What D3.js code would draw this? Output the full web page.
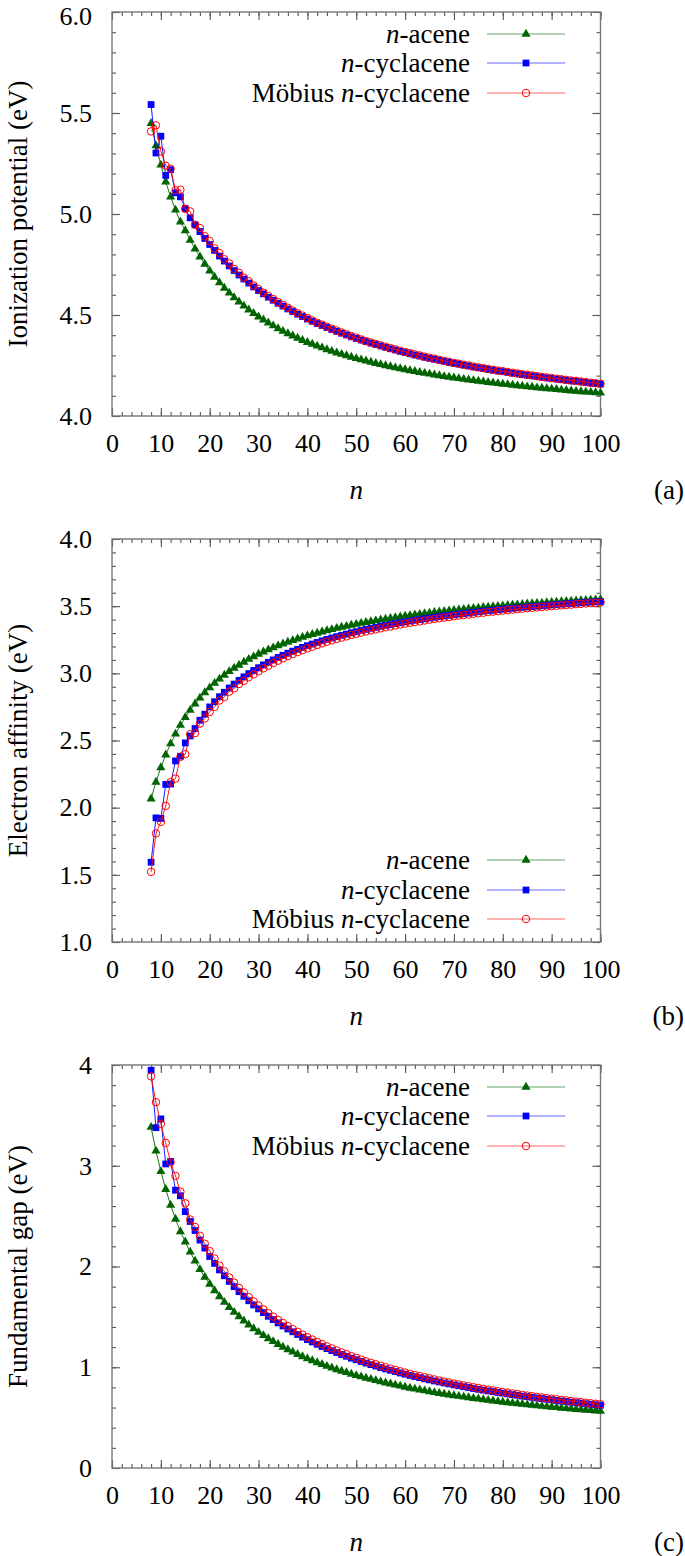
<!DOCTYPE html>
<html><head><meta charset="utf-8">
<script src="https://cdn.jsdelivr.net/npm/d3@7"></script>
<style>body{margin:0;background:#fff} svg text{font-family:"Liberation Serif","DejaVu Serif",serif;}</style>
</head><body>
<script>
// ---------- data ----------
const nValues = d3.range(8, 101); // n = 8 ... 100

// (a) Ionization potential (eV)
const ipAcene = [5.449,5.338,5.243,5.159,5.085,5.020,4.961,4.918,4.871,4.828,4.788,4.752,4.719,4.688,4.660,4.633,4.609,4.586,4.565,4.545,4.526,4.508,4.491,4.476,4.461,4.447,4.433,4.420,4.408,4.397,4.386,4.375,4.365,4.356,4.347,4.338,4.329,4.321,4.313,4.306,4.299,4.292,4.285,4.279,4.273,4.267,4.261,4.255,4.250,4.245,4.239,4.235,4.230,4.225,4.221,4.216,4.212,4.208,4.204,4.200,4.196,4.193,4.189,4.186,4.182,4.179,4.176,4.173,4.170,4.167,4.164,4.161,4.158,4.156,4.153,4.150,4.148,4.145,4.143,4.140,4.138,4.136,4.134,4.132,4.129,4.127,4.125,4.123,4.121,4.119,4.118,4.116,4.114];
const ipCyc = [5.542,5.302,5.385,5.191,5.219,5.105,5.085,5.027,4.981,4.946,4.913,4.879,4.849,4.820,4.792,4.767,4.743,4.720,4.698,4.678,4.658,4.639,4.621,4.605,4.588,4.573,4.558,4.544,4.530,4.517,4.504,4.492,4.480,4.469,4.458,4.448,4.438,4.428,4.419,4.410,4.401,4.392,4.384,4.376,4.368,4.361,4.354,4.347,4.340,4.333,4.327,4.320,4.314,4.308,4.302,4.297,4.291,4.286,4.281,4.276,4.271,4.266,4.261,4.257,4.252,4.248,4.243,4.239,4.235,4.231,4.227,4.223,4.220,4.216,4.212,4.209,4.205,4.202,4.199,4.195,4.192,4.189,4.186,4.183,4.180,4.177,4.174,4.172,4.169,4.166,4.163,4.161,4.158];
const ipMob = [5.409,5.439,5.310,5.239,5.224,5.117,5.120,5.025,5.013,4.947,4.931,4.890,4.866,4.830,4.807,4.776,4.755,4.728,4.709,4.685,4.667,4.646,4.628,4.611,4.594,4.579,4.564,4.550,4.536,4.522,4.509,4.497,4.485,4.473,4.462,4.452,4.442,4.432,4.423,4.414,4.405,4.396,4.388,4.379,4.371,4.364,4.357,4.350,4.343,4.336,4.330,4.323,4.317,4.311,4.305,4.300,4.294,4.289,4.284,4.278,4.273,4.268,4.263,4.259,4.254,4.250,4.245,4.241,4.237,4.233,4.229,4.225,4.222,4.218,4.214,4.211,4.207,4.204,4.201,4.197,4.194,4.191,4.188,4.185,4.182,4.179,4.176,4.174,4.171,4.168,4.165,4.163,4.160];

// (b) Electron affinity (eV)
const eaAcene = [2.066,2.191,2.299,2.393,2.476,2.549,2.614,2.673,2.726,2.773,2.817,2.857,2.893,2.927,2.958,2.987,3.014,3.039,3.062,3.084,3.105,3.124,3.143,3.160,3.176,3.191,3.206,3.220,3.233,3.245,3.257,3.269,3.280,3.290,3.300,3.309,3.318,3.327,3.336,3.344,3.351,3.359,3.366,3.373,3.380,3.386,3.392,3.398,3.404,3.410,3.415,3.421,3.426,3.431,3.436,3.440,3.445,3.449,3.454,3.458,3.462,3.466,3.470,3.473,3.477,3.480,3.484,3.487,3.491,3.494,3.497,3.500,3.503,3.506,3.509,3.511,3.514,3.517,3.519,3.522,3.524,3.527,3.529,3.531,3.534,3.536,3.538,3.540,3.542,3.544,3.546,3.548,3.550];
const eaCyc = [1.594,1.924,1.920,2.173,2.176,2.348,2.383,2.482,2.534,2.589,2.651,2.696,2.750,2.789,2.826,2.859,2.891,2.920,2.948,2.974,2.998,3.021,3.042,3.063,3.082,3.100,3.118,3.134,3.150,3.165,3.179,3.193,3.206,3.218,3.230,3.242,3.253,3.263,3.273,3.283,3.292,3.302,3.310,3.319,3.327,3.335,3.342,3.350,3.357,3.363,3.370,3.377,3.383,3.389,3.395,3.400,3.406,3.411,3.417,3.422,3.427,3.431,3.436,3.441,3.445,3.449,3.454,3.458,3.462,3.466,3.469,3.473,3.477,3.480,3.484,3.487,3.491,3.494,3.497,3.500,3.503,3.506,3.509,3.512,3.515,3.517,3.520,3.523,3.525,3.528,3.530,3.533,3.535];
const eaMob = [1.522,1.808,1.894,2.013,2.190,2.217,2.378,2.398,2.547,2.555,2.626,2.664,2.713,2.751,2.798,2.824,2.864,2.888,2.921,2.944,2.971,2.993,3.015,3.037,3.057,3.076,3.094,3.111,3.128,3.143,3.158,3.172,3.186,3.198,3.211,3.223,3.235,3.245,3.256,3.266,3.275,3.286,3.294,3.303,3.312,3.320,3.327,3.335,3.343,3.349,3.356,3.363,3.370,3.376,3.382,3.387,3.393,3.399,3.405,3.410,3.415,3.419,3.425,3.430,3.434,3.438,3.443,3.447,3.451,3.456,3.459,3.463,3.467,3.470,3.474,3.477,3.481,3.485,3.488,3.491,3.494,3.497,3.500,3.503,3.506,3.508,3.511,3.515,3.517,3.520,3.522,3.525,3.527];

// (c) Fundamental gap (eV)
const gapAcene = [3.383,3.147,2.944,2.766,2.609,2.471,2.347,2.245,2.145,2.055,1.971,1.895,1.826,1.761,1.702,1.646,1.595,1.547,1.503,1.461,1.421,1.384,1.348,1.316,1.285,1.256,1.227,1.200,1.175,1.152,1.129,1.106,1.085,1.066,1.047,1.029,1.011,0.994,0.977,0.962,0.948,0.933,0.919,0.906,0.893,0.881,0.869,0.857,0.846,0.835,0.824,0.814,0.804,0.794,0.785,0.776,0.767,0.759,0.750,0.742,0.734,0.727,0.719,0.713,0.705,0.699,0.692,0.686,0.679,0.673,0.667,0.661,0.655,0.650,0.644,0.639,0.634,0.628,0.624,0.618,0.614,0.609,0.605,0.601,0.595,0.591,0.587,0.583,0.579,0.575,0.572,0.568,0.564];
const gapCyc = [3.948,3.378,3.465,3.018,3.043,2.757,2.702,2.545,2.447,2.357,2.262,2.183,2.099,2.031,1.966,1.908,1.852,1.800,1.750,1.704,1.660,1.618,1.579,1.542,1.506,1.473,1.440,1.410,1.380,1.352,1.325,1.299,1.274,1.251,1.228,1.206,1.185,1.165,1.146,1.127,1.109,1.090,1.074,1.057,1.041,1.026,1.012,0.997,0.983,0.970,0.957,0.943,0.931,0.919,0.907,0.897,0.885,0.875,0.864,0.854,0.844,0.835,0.825,0.816,0.807,0.799,0.789,0.781,0.773,0.765,0.758,0.750,0.743,0.736,0.728,0.722,0.714,0.708,0.702,0.695,0.689,0.683,0.677,0.671,0.665,0.660,0.654,0.649,0.644,0.638,0.633,0.628,0.623];
const gapMob = [3.887,3.631,3.416,3.226,3.034,2.900,2.742,2.627,2.466,2.392,2.305,2.226,2.153,2.079,2.009,1.952,1.891,1.840,1.788,1.741,1.696,1.653,1.613,1.574,1.537,1.503,1.470,1.439,1.408,1.379,1.351,1.325,1.299,1.275,1.251,1.229,1.207,1.187,1.167,1.148,1.130,1.110,1.094,1.076,1.059,1.044,1.030,1.015,1.000,0.987,0.974,0.960,0.947,0.935,0.923,0.913,0.901,0.890,0.879,0.868,0.858,0.849,0.838,0.829,0.820,0.812,0.802,0.794,0.786,0.777,0.770,0.762,0.755,0.748,0.740,0.734,0.726,0.719,0.713,0.706,0.700,0.694,0.688,0.682,0.676,0.671,0.665,0.659,0.654,0.648,0.643,0.638,0.633];

// ticks
const xMajorTicks = [0,10,20,30,40,50,60,70,80,90,100];
const xMinorTicks = d3.range(0, 101, 2);
const ipMajorTicks = [4.0,4.5,5.0,5.5,6.0];
const eaMajorTicks = [1.0,1.5,2.0,2.5,3.0,3.5,4.0];
const gapMajorTicks = [0,1,2,3,4];

// ---------- drawing ----------
const W = 685, H = 1556;
const FONT = "Liberation Serif, DejaVu Serif, serif";
const svg = d3.select("body").append("svg").attr("width", W).attr("height", H)
  .attr("font-family", FONT);

const colors = ["#006400", "#0000ff", "#ff0000"];
const shapes = [d3.symbolTriangle, d3.symbolSquare, d3.symbolCircle];
const symSizes = [36, 46, 44];

const panels = [
  {top: 12, bottom: 416, domain: [4, 6], majors: ipMajorTicks, minorStep: 0.1, fmt: d3.format(".1f"),
   label: "Ionization potential (eV)", tag: "(a)", data: [ipAcene, ipCyc, ipMob], legendTop: true},
  {top: 539, bottom: 942, domain: [1, 4], majors: eaMajorTicks, minorStep: 0.1, fmt: d3.format(".1f"),
   label: "Electron affinity (eV)", tag: "(b)", data: [eaAcene, eaCyc, eaMob], legendTop: false},
  {top: 1065, bottom: 1468, domain: [0, 4], majors: gapMajorTicks, minorStep: 0.2, fmt: d3.format("d"),
   label: "Fundamental gap (eV)", tag: "(c)", data: [gapAcene, gapCyc, gapMob], legendTop: true}
];

const X0 = 112, X1 = 600.5;
const tickColor = "#555";

function styleAxis(sel) {
  sel.attr("font-family", FONT).attr("font-size", 26);
  sel.select(".domain").remove();
  sel.selectAll(".tick line").attr("stroke", tickColor).attr("stroke-width", 1.1);
  sel.selectAll(".tick text").attr("fill", "#000");
}

panels.forEach((p, pi) => {
  const x = d3.scaleLinear().domain([0, 100]).range([X0, X1]);
  const y = d3.scaleLinear().domain(p.domain).range([p.bottom, p.top]);
  const g = svg.append("g");
  const yMinor = d3.range(Math.round((p.domain[1] - p.domain[0]) / p.minorStep) + 1).map(i => p.domain[0] + i * p.minorStep);
  const empty = () => "";

  // minor ticks
  g.append("g").attr("transform", `translate(0,${p.bottom})`)
    .call(d3.axisBottom(x).tickValues(xMinorTicks).tickSize(-4).tickFormat(empty)).call(styleAxis);
  g.append("g").attr("transform", `translate(0,${p.top})`)
    .call(d3.axisTop(x).tickValues(xMinorTicks).tickSize(-4).tickFormat(empty)).call(styleAxis);
  g.append("g").attr("transform", `translate(${X0},0)`)
    .call(d3.axisLeft(y).tickValues(yMinor).tickSize(-4).tickFormat(empty)).call(styleAxis);
  g.append("g").attr("transform", `translate(${X1},0)`)
    .call(d3.axisRight(y).tickValues(yMinor).tickSize(-4).tickFormat(empty)).call(styleAxis);
  // major ticks
  g.append("g").attr("transform", `translate(0,${p.bottom})`)
    .call(d3.axisBottom(x).tickValues(xMajorTicks).tickSize(-8).tickPadding(18).tickFormat(d3.format("d"))).call(styleAxis);
  g.append("g").attr("transform", `translate(0,${p.top})`)
    .call(d3.axisTop(x).tickValues(xMajorTicks).tickSize(-8).tickFormat(empty)).call(styleAxis);
  const yAx = g.append("g").attr("transform", `translate(${X0},0)`)
    .call(d3.axisLeft(y).tickValues(p.majors).tickSize(-8).tickPadding(20).tickFormat(p.fmt)).call(styleAxis);
  if (pi === 0) {
    // keep the top label of the first panel inside the page
    yAx.selectAll(".tick text").filter(d => d === p.domain[1]).attr("dy", "0.47em");
  }
  g.append("g").attr("transform", `translate(${X1},0)`)
    .call(d3.axisRight(y).tickValues(p.majors).tickSize(-8).tickFormat(empty)).call(styleAxis);

  // frame
  g.append("rect").attr("x", X0).attr("y", p.top).attr("width", X1 - X0).attr("height", p.bottom - p.top)
    .attr("fill", "none").attr("stroke", "#777").attr("stroke-width", 1.4);

  // series
  p.data.forEach((vals, si) => {
    const pts = nValues.map((n, i) => [n, vals[i]]);
    g.append("path").datum(pts)
      .attr("d", d3.line().x(d => x(d[0])).y(d => y(d[1])))
      .attr("fill", "none").attr("stroke", colors[si]).attr("stroke-width", 1).attr("stroke-opacity", 0.9);
    const sym = d3.symbol().type(shapes[si]).size(symSizes[si]);
    g.append("g").selectAll("path").data(pts).join("path")
      .attr("transform", d => `translate(${x(d[0])},${y(d[1])})`)
      .attr("d", sym())
      .attr("fill", si === 2 ? "none" : colors[si])
      .attr("stroke", si === 2 ? colors[si] : "none")
      .attr("stroke-width", 1);
  });

  // legend
  const rows = p.legendTop ? [p.top + 22, p.top + 51, p.top + 81] : [p.bottom - 82, p.bottom - 52, p.bottom - 23];
  const legendParts = [
    [["n", true], ["-acene", false]],
    [["n", true], ["-cyclacene", false]],
    [["Möbius ", false], ["n", true], ["-cyclacene", false]]
  ];
  legendParts.forEach((parts, si) => {
    const ry = rows[si];
    const t = g.append("text").attr("x", 470).attr("y", ry).attr("dy", "0.33em")
      .attr("text-anchor", "end").attr("font-size", 27);
    parts.forEach(([s, it]) => t.append("tspan").text(s).attr("font-style", it ? "italic" : "normal"));
    g.append("line").attr("x1", 487).attr("x2", 565).attr("y1", ry).attr("y2", ry)
      .attr("stroke", colors[si]).attr("stroke-width", 1).attr("stroke-opacity", 0.6);
    g.append("path").attr("transform", `translate(526,${ry})`)
      .attr("d", d3.symbol().type(shapes[si]).size(symSizes[si])())
      .attr("fill", si === 2 ? "none" : colors[si])
      .attr("stroke", si === 2 ? colors[si] : "none");
  });

  // axis titles
  const cy = (p.top + p.bottom) / 2;
  g.append("text").attr("transform", `translate(18,${cy}) rotate(-90)`)
    .attr("text-anchor", "middle").attr("dominant-baseline", "central")
    .attr("font-size", 27).text(p.label);
  g.append("text").attr("x", (X0 + X1) / 2).attr("y", p.bottom + 74).attr("dy", "0.33em")
    .attr("text-anchor", "middle").attr("font-size", 27).attr("font-style", "italic").text("n");
  g.append("text").attr("x", 684).attr("y", p.bottom + 74).attr("dy", "0.33em")
    .attr("text-anchor", "end").attr("font-size", 27).text(p.tag);
});
</script>
</body></html>
